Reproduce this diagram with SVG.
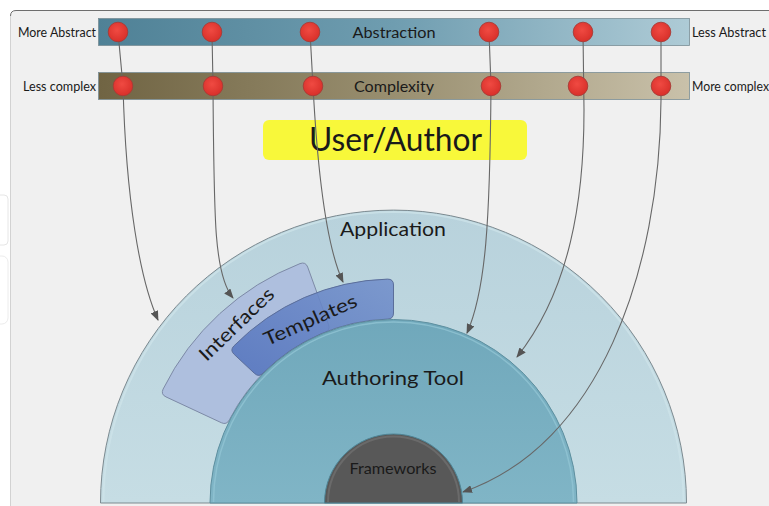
<svg xmlns="http://www.w3.org/2000/svg" width="769" height="506" viewBox="0 0 769 506">
<defs>
<style>
.lbl{font-family:Lato,"Open Sans","Liberation Sans",sans-serif;fill:#1a1a1a}
.conn{fill:none;stroke:#676767;stroke-width:1.1}
.dot{fill:url(#red);stroke:#a83a36;stroke-width:0.9}
.bar{stroke:#7a8e96;stroke-width:0.8}
</style>
<linearGradient id="gAbs" x1="0" y1="0" x2="1" y2="0">
<stop offset="0" stop-color="#4f8196"/><stop offset="0.5" stop-color="#6f9db0"/><stop offset="1" stop-color="#aecbd6"/>
</linearGradient>
<linearGradient id="gCmp" x1="0" y1="0" x2="1" y2="0">
<stop offset="0" stop-color="#706443"/><stop offset="0.5" stop-color="#998f70"/><stop offset="1" stop-color="#c9c1aa"/>
</linearGradient>
<linearGradient id="gApp" x1="0" y1="0" x2="0" y2="1">
<stop offset="0" stop-color="#b8d2dc"/><stop offset="1" stop-color="#c6dde4"/>
</linearGradient>
<linearGradient id="gAut" x1="0" y1="0" x2="0" y2="1">
<stop offset="0" stop-color="#70a8bb"/><stop offset="1" stop-color="#80b5c6"/>
</linearGradient>
<linearGradient id="gTpl" x1="0" y1="1" x2="1" y2="0">
<stop offset="0" stop-color="#5373bd"/><stop offset="1" stop-color="#7390cb"/>
</linearGradient>
<radialGradient id="red" cx="0.45" cy="0.4" r="0.6">
<stop offset="0" stop-color="#f04a42"/><stop offset="1" stop-color="#d8302a"/>
</radialGradient>
<marker id="arr" markerWidth="10" markerHeight="8" refX="9" refY="4" orient="auto" markerUnits="userSpaceOnUse">
<path d="M0,0 L10,4 L0,8 z" fill="#555"/>
</marker>
</defs>

<!-- page frame -->
<rect x="0" y="0" width="769" height="506" fill="#ffffff"/>
<path d="M10.5 506 V16 Q10.5 10.5 16 10.5 H769 V506 Z" fill="#f0f0f0"/>
<path d="M10.5 506 V16" stroke="#d2d2d2" stroke-width="1" fill="none"/>
<path d="M10.5 16 Q10.5 10.5 16 10.5 H769" stroke="#6e6e6e" stroke-width="1" fill="none"/>
<rect x="-6" y="195" width="14" height="50" rx="4" fill="none" stroke="#e6e6e6"/>
<rect x="-6" y="256" width="14" height="68" rx="6" fill="none" stroke="#ececec"/>

<!-- bars -->
<g id="bar-abstraction">
<rect class="bar" x="98.5" y="18.5" width="591" height="27" fill="url(#gAbs)"/>
<text class="lbl" x="394" y="37.5" font-size="15.5" text-anchor="middle" textLength="83" lengthAdjust="spacingAndGlyphs">Abstraction</text>
<text class="lbl" x="96" y="36.5" font-size="12.5" text-anchor="end" textLength="78" lengthAdjust="spacingAndGlyphs">More Abstract</text>
<text class="lbl" x="692" y="36.5" font-size="12.5" textLength="74" lengthAdjust="spacingAndGlyphs">Less Abstract</text>
</g>
<g id="bar-complexity">
<rect class="bar" x="98.5" y="72.5" width="591" height="27" fill="url(#gCmp)"/>
<text class="lbl" x="394" y="91.5" font-size="15.5" text-anchor="middle" textLength="80" lengthAdjust="spacingAndGlyphs">Complexity</text>
<text class="lbl" x="96" y="90.5" font-size="12.5" text-anchor="end" textLength="73" lengthAdjust="spacingAndGlyphs">Less complex</text>
<text class="lbl" x="692" y="90.5" font-size="12.5" textLength="77" lengthAdjust="spacingAndGlyphs">More complex</text>
</g>

<g id="user-author">
<rect x="263" y="120" width="264" height="40" rx="6" fill="#f8f83a"/>
<text class="lbl" x="395.5" y="151" font-size="32" text-anchor="middle" textLength="173" lengthAdjust="spacingAndGlyphs">User/Author</text>
</g>

<g id="application">
<path d="M100.5 503 A293 293 0 0 1 686.5 503 Z" fill="url(#gApp)" stroke="#7c8a90" stroke-width="1" stroke-linejoin="round"/>
<path d="M103.5 502 A290 290 0 0 1 683.5 502" fill="none" stroke="#cfe4ea" stroke-width="2" opacity="0.7"/>
<text class="lbl" x="393" y="236" font-size="19" text-anchor="middle" textLength="106" lengthAdjust="spacingAndGlyphs">Application</text>
</g>

<g id="interfaces">
<path d="M300 263.6 A257 257 0 0 0 163.1 389.1 Q160.6 394.4 166 396.9 L221.3 422.7 Q226.7 425.2 229.4 419.8 A184 184 0 0 1 324.9 332.3 Q330.6 330.1 328.5 324.5 L307.7 267.1 Q305.6 261.5 300 263.6 Z" fill="#aebfde" stroke="#7d8aa6" stroke-width="1"/>
<text class="lbl" x="241" y="329" font-size="19" text-anchor="middle" transform="rotate(-44 241 329)" textLength="96" lengthAdjust="spacingAndGlyphs">Interfaces</text>
</g>

<g id="templates">
<path d="M387.5 279.1 A224 224 0 0 0 233.9 345.9 Q229.7 350.2 234.1 354.3 L254.5 373.4 Q258.9 377.5 263 373.2 A184 184 0 0 1 387.5 319.1 Q393.5 319 393.5 313 L393.5 285 Q393.5 279 387.5 279.1 Z" fill="url(#gTpl)" fill-opacity="0.88" stroke="#5b6e9a" stroke-width="1"/>
<text class="lbl" x="313" y="326" font-size="19" text-anchor="middle" transform="rotate(-24 313 326)" textLength="100" lengthAdjust="spacingAndGlyphs">Templates</text>
</g>

<g id="authoring-tool">
<path d="M210 503 A183.5 183.5 0 0 1 577 503 Z" fill="url(#gAut)" stroke="#5d8f9f" stroke-width="1" stroke-linejoin="round"/>
<path d="M213.5 502 A180 180 0 0 1 573.5 502" fill="none" stroke="#93c6d4" stroke-width="1.5" opacity="0.75"/>
<text class="lbl" x="393" y="385" font-size="19" text-anchor="middle" textLength="142" lengthAdjust="spacingAndGlyphs">Authoring Tool</text>
</g>

<g id="frameworks">
<path d="M324.5 503 A69 69 0 0 1 462.5 503 Z" fill="#585858" stroke="#4f8596" stroke-width="1" stroke-linejoin="round"/>
<path d="M328 502 A65.5 65.5 0 0 1 459 502" fill="none" stroke="#6a6a6a" stroke-width="2"/>
<text class="lbl" x="393" y="474" font-size="15" text-anchor="middle" textLength="87" lengthAdjust="spacingAndGlyphs">Frameworks</text>
</g>

<g id="connectors">
<path class="conn" marker-end="url(#arr)" d="M118 32 L123 86 C126 200 140 280 158 320"/>
<path class="conn" marker-end="url(#arr)" d="M212 32 L213 86 C214 220 214 275 233 298"/>
<path class="conn" marker-end="url(#arr)" d="M310 32 L313 86 C318 180 328 250 343 282"/>
<path class="conn" marker-end="url(#arr)" d="M489 32 L491 86 C490 220 486 290 467 333"/>
<path class="conn" marker-end="url(#arr)" d="M583 32 L584 110 C584 200 570 290 517 357"/>
<path class="conn" marker-end="url(#arr)" d="M661 32 L661 100 C660 270 600 445 463 492"/>
</g>

<g id="scale-points">
<circle class="dot" cx="118" cy="32" r="9.8"/>
<circle class="dot" cx="212" cy="32" r="9.8"/>
<circle class="dot" cx="310" cy="32" r="9.8"/>
<circle class="dot" cx="489" cy="32" r="9.8"/>
<circle class="dot" cx="583" cy="32" r="9.8"/>
<circle class="dot" cx="661" cy="32" r="9.8"/>
<circle class="dot" cx="123" cy="86" r="9.8"/>
<circle class="dot" cx="213" cy="86" r="9.8"/>
<circle class="dot" cx="313" cy="86" r="9.8"/>
<circle class="dot" cx="491" cy="86" r="9.8"/>
<circle class="dot" cx="578" cy="86" r="9.8"/>
<circle class="dot" cx="661" cy="86" r="9.8"/>
</g>
</svg>
